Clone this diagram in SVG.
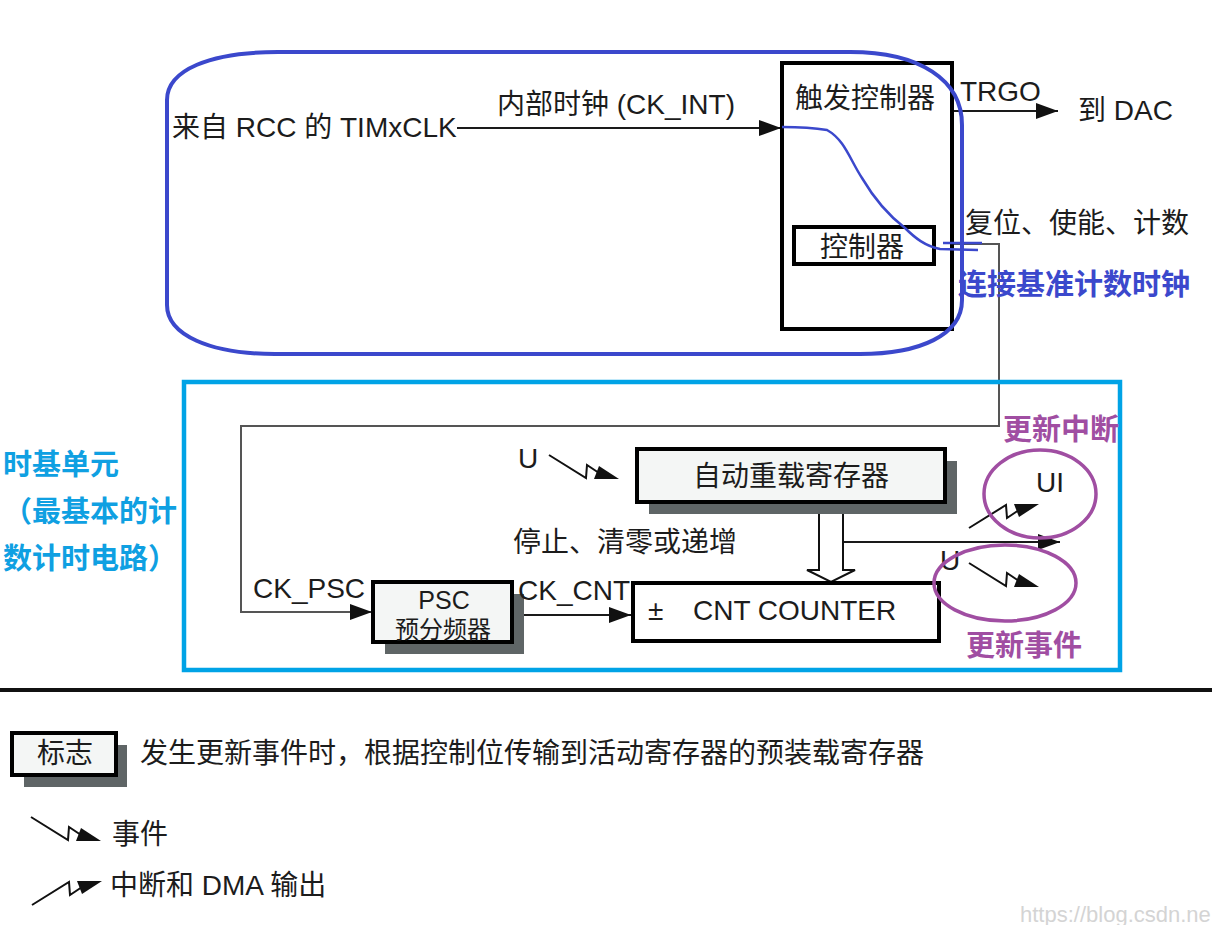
<svg xmlns="http://www.w3.org/2000/svg" width="1212" height="925" viewBox="0 0 1212 925">
<style>
.t{font-family:"Liberation Sans","Noto Sans CJK SC",sans-serif;font-size:28px;fill:#1c1c1c}
.m{text-anchor:middle}
.bl{font-weight:bold;font-size:29px;fill:#3b48cc}
.cy{font-weight:bold;font-size:29px;fill:#0fa0e2}
.pu{font-weight:bold;font-size:29px;fill:#a04ea2}
.box{fill:#fff;stroke:#000;stroke-width:4}
.boxg{fill:#f4f6f5;stroke:#000;stroke-width:4}
.sh{fill:#5f6566}
.ln{fill:none;stroke:#1a1a1a;stroke-width:2}
.fb{fill:none;stroke:#555;stroke-width:2}
.sym{fill:none;stroke:#111;stroke-width:2}
.hd{fill:#111}
</style>
<defs>
<marker id="arr" markerUnits="userSpaceOnUse" markerWidth="24" markerHeight="16" refX="22" refY="8" orient="auto">
<path d="M0,0 L22,8 L0,16 Z" fill="#111"/>
</marker>
<g id="ev">
<polyline class="sym" points="0,0 37,23 38,10 50,18"/>
<polygon class="hd" points="50,11 45,24 70,24"/>
</g>
<g id="it">
<polyline class="sym" points="0,0 37,-23 38,-10 50,-18"/>
<polygon class="hd" points="50,-11 45,-24 70,-24"/>
</g>
</defs>
<rect width="1212" height="925" fill="#fff"/>

<g id="connectors">
<line class="ln" x1="457" y1="128" x2="781" y2="128" marker-end="url(#arr)"/>
<line class="ln" x1="953" y1="111" x2="1058" y2="111" marker-end="url(#arr)"/>
<polyline class="fb" points="953,244 999,244 999,426 241,426 241,612 372,612" marker-end="url(#arr)"/>
<line class="ln" x1="512" y1="615" x2="631" y2="615" marker-end="url(#arr)"/>
<line class="ln" x1="843" y1="542" x2="1060" y2="542" marker-end="url(#arr)"/>
<path d="M819,503 L819,570 L807,570 L831,582 L855,570 L843,570 L843,503" fill="#fff" stroke="#111" stroke-width="2"/>
<use href="#ev" x="549" y="455"/>
<use href="#it" x="969" y="528"/>
<use href="#ev" x="969" y="563"/>
</g>

<g id="input">
<text class="t" x="172" y="137">来自 RCC 的 TIMxCLK</text>
<text class="t" x="497" y="114">内部时钟 (CK_INT)</text>
</g>

<g id="trigger">
<rect class="box" x="782" y="63" width="170" height="266" fill="none"/>
<text class="t" x="795" y="108">触发控制器</text>
</g>
<g id="controller">
<rect class="box" x="794" y="227" width="140" height="37"/>
<text class="t m" x="862" y="257">控制器</text>
</g>
<g id="trgo">
<text class="t" x="960" y="101">TRGO</text>
<text class="t" x="1078" y="120">到 DAC</text>
</g>
<text class="t" x="965" y="233">复位、使能、计数</text>

<g id="timebase">
<rect x="184" y="382" width="936" height="288" fill="none" stroke="#00a3e6" stroke-width="4.5"/>
<text class="t cy" x="3" y="475">时基单元</text>
<text class="t cy" x="3" y="522">（最基本的计</text>
<text class="t cy" x="3" y="569">数计时电路）</text>
</g>

<g id="arr-reg">
<rect class="sh" x="649" y="461" width="308" height="53"/>
<rect class="boxg" x="637" y="449" width="308" height="53"/>
<text class="t m" x="791" y="486">自动重载寄存器</text>
<text class="t" x="518" y="468">U</text>
</g>
<text class="t" x="513" y="552">停止、清零或递增</text>

<g id="psc">
<rect class="sh" x="385" y="594" width="139" height="60"/>
<rect class="boxg" x="373" y="582" width="139" height="60"/>
<text class="t m" x="444" y="609" style="font-size:25px">PSC</text>
<text class="t m" x="443" y="638" style="font-size:24px">预分频器</text>
<text class="t" x="253" y="598">CK_PSC</text>
<text class="t" x="518" y="600">CK_CNT</text>
</g>

<g id="cnt">
<rect class="box" x="633" y="583" width="306" height="58"/>
<text class="t" x="648" y="620">±</text>
<text class="t" x="693" y="620">CNT COUNTER</text>
</g>

<g id="outputs">
<text class="t" x="1036" y="492">UI</text>
<text class="t" x="940" y="570">U</text>
</g>

<g id="annotations">
<path d="M278,52 L850,52 C920,52 962,80 962,125 L962,300 C962,335 920,354 860,354 L275,354 C210,354 167,335 167,305 L167,100 C167,70 210,52 278,52 Z" fill="none" stroke="#3b48cc" stroke-width="4"/>
<path d="M782,127 C800,127 815,128 827,130 C845,140 850,160 862,178 C872,195 888,215 905,228 C915,238 925,246 940,249 L978,250" fill="none" stroke="#3b48cc" stroke-width="2.5"/>
<path d="M943,243 L982,243" fill="none" stroke="#3b48cc" stroke-width="2.5"/>
<text class="t bl" x="958" y="295">连接基准计数时钟</text>
<ellipse cx="1040" cy="494" rx="56" ry="44" fill="none" stroke="#a04ea2" stroke-width="3.5"/>
<ellipse cx="1005" cy="583" rx="71" ry="38" fill="none" stroke="#a04ea2" stroke-width="3.5"/>
<text class="t pu" x="1003" y="440">更新中断</text>
<text class="t pu" x="966" y="656">更新事件</text>
</g>

<line x1="0" y1="690" x2="1212" y2="690" stroke="#111" stroke-width="4"/>

<g id="legend">
<rect class="sh" x="24" y="745" width="103" height="42"/>
<rect class="boxg" x="12" y="733" width="104" height="42"/>
<text class="t m" x="65" y="763">标志</text>
<text class="t" x="140" y="763">发生更新事件时，根据控制位传输到活动寄存器的预装载寄存器</text>
<use href="#ev" x="31" y="817"/>
<text class="t" x="112" y="844">事件</text>
<use href="#it" x="32" y="905"/>
<text class="t" x="110" y="895">中断和 DMA 输出</text>
</g>

<text x="1020" y="922" style="font-family:'Liberation Sans',sans-serif;font-size:22px;fill:#d4d4d4">https://blog.csdn.ne</text>
</svg>
